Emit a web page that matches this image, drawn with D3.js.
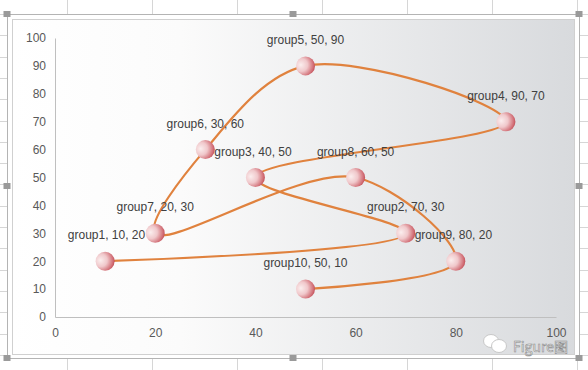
<!DOCTYPE html>
<html>
<head>
<meta charset="utf-8">
<title>groups scatter</title>
<style>
  body{ margin:0; background:#fff; }
  svg{ display:block; font-family:"Liberation Sans", Arial, sans-serif; }
</style>
<script src="https://cdnjs.cloudflare.com/ajax/libs/d3/7.8.5/d3.min.js"></script>
</head>
<body>
<svg width="588" height="370"></svg>
<script>
// data, in drawing order of the smoothed line
var names = ["group1","group2","group3","group4","group5","group6","group7","group8","group9","group10"];
var xs    = [10, 70, 40, 90, 50, 30, 20, 60, 80, 50];
var ys    = [20, 30, 50, 70, 90, 60, 30, 50, 20, 10];
// each label sits next to one of the points (as in the original sheet)
var labelAnchor = [6, 1, 5, 3, 4, 5, 6, 7, 1, 9];
var labelSide   = ["left","above","right","above","above","above","above","above","right","above"];
var xTicks = [0, 20, 40, 60, 80, 100];
var yTicks = [0, 10, 20, 30, 40, 50, 60, 70, 80, 90, 100];

var svg = d3.select("svg");
var W = 588, H = 370;

// spreadsheet grid behind the chart
var grid = svg.append("g").attr("stroke", "#d6d6d6").attr("stroke-width", 1);
d3.range(-18, W, 85).forEach(function(x){
  grid.append("line").attr("x1", x + 0.5).attr("x2", x + 0.5).attr("y1", 0).attr("y2", H);
});
d3.range(14, H, 21.3).forEach(function(y){
  grid.append("line").attr("x1", 0).attr("x2", W).attr("y1", Math.round(y) + 0.5).attr("y2", Math.round(y) + 0.5);
});

var defs = svg.append("defs");
var bg = defs.append("linearGradient").attr("id", "bg");
bg.append("stop").attr("offset", "0%").attr("stop-color", "#ffffff");
bg.append("stop").attr("offset", "30%").attr("stop-color", "#fbfbfb");
bg.append("stop").attr("offset", "100%").attr("stop-color", "#d8dadd");

var ball = defs.append("radialGradient").attr("id", "ball")
  .attr("cx", "30%").attr("cy", "45%").attr("r", "75%").attr("fx", "25%").attr("fy", "45%");
ball.append("stop").attr("offset", "0%").attr("stop-color", "#fbeeee");
ball.append("stop").attr("offset", "45%").attr("stop-color", "#f0c8cb");
ball.append("stop").attr("offset", "85%").attr("stop-color", "#d06a72");
ball.append("stop").attr("offset", "100%").attr("stop-color", "#b8404a");

// selection frame + chart area
svg.append("rect").attr("x", 7.5).attr("y", 14.5).attr("width", 572).attr("height", 344)
  .attr("fill", "#fff").attr("stroke", "#b4b4b4");
svg.append("rect").attr("x", 12.5).attr("y", 19.5).attr("width", 562).attr("height", 335)
  .attr("fill", "url(#bg)").attr("stroke", "#d0d0d0");
[[7,14],[293,14],[579,14],[7,186],[579,186],[7,358],[293,358],[579,358]].forEach(function(p){
  svg.append("rect").attr("x", p[0] - 3.5).attr("y", p[1] - 3).attr("width", 7).attr("height", 6)
    .attr("fill", "#9a9a9a");
});

var x = d3.scaleLinear().domain([0, 100]).range([55, 556]);
var y = d3.scaleLinear().domain([0, 100]).range([317, 38]);

var yAxis = svg.append("g").attr("transform", "translate(55,0)")
  .call(d3.axisLeft(y).tickValues(yTicks).tickSize(0).tickPadding(9));
var xAxis = svg.append("g").attr("transform", "translate(0,317)")
  .call(d3.axisBottom(x).tickValues(xTicks).tickSize(0).tickPadding(11));
[xAxis, yAxis].forEach(function(a){
  a.select(".domain").attr("stroke", "#bfbfbf").attr("stroke-width", 1);
  a.selectAll("text").attr("fill", "#595959").style("font-size", "12px")
    .style("font-family", "'Liberation Sans', Arial, sans-serif");
});

var pts = xs.map(function(v, i){ return [x(v), y(ys[i])]; });

svg.append("path")
  .attr("d", d3.line().curve(d3.curveCatmullRom.alpha(0.5))(pts))
  .attr("fill", "none").attr("stroke", "#e0823e").attr("stroke-width", 2.2);

svg.selectAll(".ball").data(pts).enter().append("circle")
  .attr("class", "ball")
  .attr("cx", function(d){ return d[0]; })
  .attr("cy", function(d){ return d[1]; })
  .attr("r", 9.5)
  .attr("fill", "url(#ball)");

svg.selectAll(".lbl").data(names).enter().append("text")
  .attr("class", "lbl")
  .attr("x", function(d, i){
    var p = pts[labelAnchor[i]], s = labelSide[i];
    return s == "left" ? p[0] - 10 : s == "right" ? p[0] + 9 : p[0];
  })
  .attr("y", function(d, i){
    var p = pts[labelAnchor[i]];
    return labelSide[i] == "above" ? p[1] - 22 : p[1] + 6;
  })
  .attr("text-anchor", function(d, i){
    var s = labelSide[i];
    return s == "left" ? "end" : s == "right" ? "start" : "middle";
  })
  .attr("fill", "#404040").style("font-size", "12px")
  .text(function(d, i){ return d + ", " + xs[i] + ", " + ys[i]; });

// watermark
var wm = svg.append("g").attr("transform", "translate(491,341)");
wm.append("ellipse").attr("cx", 0).attr("cy", 0).attr("rx", 7.5).attr("ry", 6.5)
  .attr("fill", "#fff").attr("stroke", "#c8c8c8");
wm.append("ellipse").attr("cx", 8).attr("cy", 5).attr("rx", 7.5).attr("ry", 6.5)
  .attr("fill", "#fff").attr("stroke", "#c8c8c8");
wm.append("text").attr("x", 22).attr("y", 11).text("Figure图")
  .attr("fill", "#fff").attr("stroke", "#8a8a8a").attr("stroke-width", 0.6)
  .style("font-size", "14px").style("font-family", "'Noto Sans CJK SC', 'DejaVu Sans', sans-serif");
</script>
</body>
</html>
